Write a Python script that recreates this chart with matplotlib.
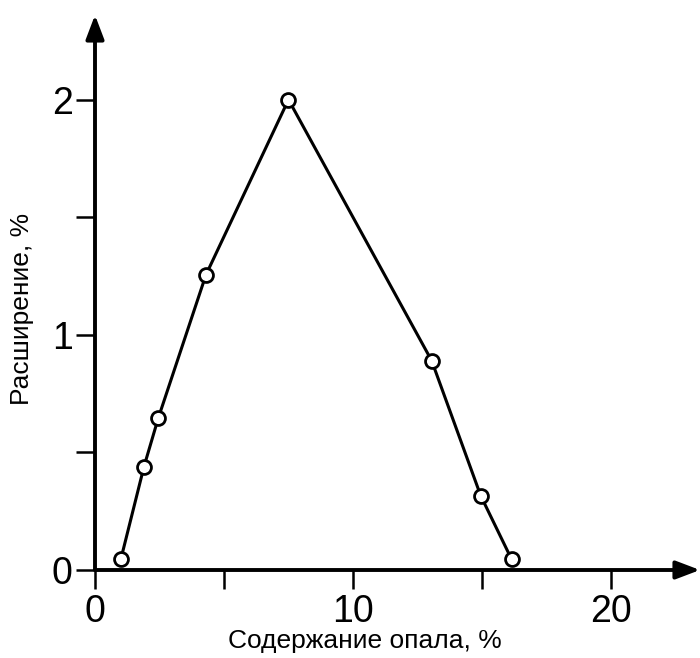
import numpy as np
import matplotlib.pyplot as plt

plt.rcParams['font.family'] = ['Liberation Sans', 'DejaVu Sans']

opal = [1.0, 1.9, 2.45, 4.3, 7.5, 13.05, 14.95, 16.15]
expansion = [0.045, 0.44, 0.645, 1.255, 2.0, 0.89, 0.316, 0.045]

x_ticks = [0, 5, 10, 15, 20]
x_labels = ['0', '', '10', '', '20']
y_ticks = [0, 0.5, 1, 1.5, 2]
y_labels = ['0', '', '1', '', '2']

fig = plt.figure(figsize=(7, 6.58), dpi=100)
ax = fig.add_axes([95/700, 88/658, 605/700, 555/658])

ax.plot(opal, expansion, color='black', lw=2.2, zorder=3, clip_on=False)
ax.plot(opal, expansion, 'o', ms=10, mfc='white', mec='black', mew=2.0,
        zorder=4, clip_on=False)

ax.set_xlim(0, 23.45)
ax.set_ylim(0, 2.36)

for s in ax.spines.values():
    s.set_visible(False)

# axes drawn as arrows
arrow = dict(arrowstyle='-|>,head_length=1.45,head_width=0.55', lw=2.8,
             color='black', shrinkA=0, shrinkB=0, mutation_scale=10)
ax.annotate('', xy=(0, 1), xytext=(0, 0), xycoords='axes fraction',
            arrowprops=arrow, annotation_clip=False)
ax.annotate('', xy=(1, 0), xytext=(0, 0), xycoords='axes fraction',
            arrowprops=arrow, annotation_clip=False)

ax.set_xticks(x_ticks)
ax.set_xticklabels(x_labels)
ax.set_yticks(y_ticks)
ax.set_yticklabels(y_labels)
ax.tick_params(direction='out', length=14, width=1.8, labelsize=27,
               color='black')
ax.tick_params(axis='x', pad=3)
ax.tick_params(axis='y', pad=2)

ax.set_xlabel('Содержание опала, %', fontsize=19)
ax.xaxis.set_label_coords(0.446, -0.106)
ax.set_ylabel('Расширение, %', fontsize=19)
ax.yaxis.set_label_coords(-0.101, 0.47)

fig.savefig('out.png', dpi=100)
